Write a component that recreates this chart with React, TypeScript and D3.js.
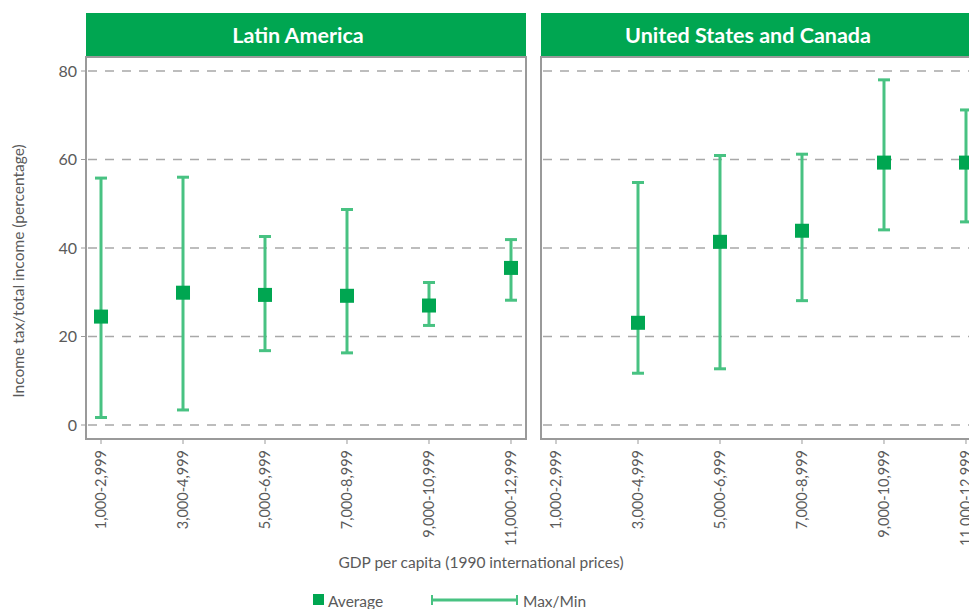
import * as d3 from "d3";

const categories = ["1,000-2,999", "3,000-4,999", "5,000-6,999", "7,000-8,999", "9,000-10,999", "11,000-12,999"];
const panels = ["Latin America", "United States and Canada"];

// Latin America
const latamAvg = [24.5, 29.9, 29.4, 29.2, 27.0, 35.5];
const latamMax = [55.8, 56.0, 42.6, 48.7, 32.2, 41.9];
const latamMin = [1.7, 3.4, 16.8, 16.3, 22.5, 28.2];

// United States and Canada (no data for first bracket)
const usAvg = [null, 23.1, 41.4, 43.9, 59.3, 59.3];
const usMax = [null, 54.8, 60.9, 61.2, 78.0, 71.2];
const usMin = [null, 11.7, 12.7, 28.1, 44.1, 45.9];

const yTicks = [0, 20, 40, 60, 80];

const W = 969;
const H = 609;
const panelW = 440;
const panelLeft = [86, 541];
const headerTop = 13;
const plotTop = 57;
const plotBottom = 439;
const font = "Lato, 'Open Sans', sans-serif";
const green = "#00a651";
const barColor = "#48c282";
const axisGray = "#9a9a9a";
const textGray = "#5a5a5a";

const y = d3.scaleLinear().domain([0, 80]).range([425, 71]);

type Row = { cat: string; avg: number | null; max: number | null; min: number | null };

const seriesRows: Row[][] = [
  categories.map((c, i) => ({ cat: c, avg: latamAvg[i], max: latamMax[i], min: latamMin[i] })),
  categories.map((c, i) => ({ cat: c, avg: usAvg[i], max: usMax[i], min: usMin[i] })),
];

function Panel({ idx }: { idx: number }) {
  const left = panelLeft[idx];
  const x = d3.scalePoint<string>().domain(categories).range([left, left + panelW]).padding(0.183);
  const rows = seriesRows[idx];
  return (
    <g>
      <rect x={left} y={headerTop} width={panelW} height={plotTop - headerTop} fill={green} />
      <text
        x={left + panelW / 2 - (idx === 0 ? 8 : 13)}
        y={(headerTop + plotTop) / 2 + 7.5}
        textAnchor="middle"
        fill="#fff"
        fontSize={21.5}
        fontWeight={700}
        fontFamily={font}
      >
        {panels[idx]}
      </text>
      {yTicks.map((t) => (
        <line
          key={t}
          x1={left + 2}
          x2={left + panelW - 2}
          y1={y(t)}
          y2={y(t)}
          stroke="#a8a8a8"
          strokeWidth={1.5}
          strokeDasharray="9,8"
        />
      ))}
      <rect
        x={left}
        y={plotTop}
        width={panelW}
        height={plotBottom - plotTop}
        fill="none"
        stroke={axisGray}
        strokeWidth={2}
      />
      {categories.map((c) => (
        <g key={c} transform={`translate(${x(c)},${plotBottom})`}>
          <line y1={1} y2={5} stroke={axisGray} strokeWidth={1} />
          <text
            transform="rotate(-90)"
            x={-11}
            dy="0.35em"
            textAnchor="end"
            fontSize={14.5}
            fill={textGray}
            fontFamily={font}
          >
            {c}
          </text>
        </g>
      ))}
      {rows
        .filter((r) => r.avg !== null)
        .map((r) => {
          const cx = x(r.cat) as number;
          return (
            <g key={r.cat}>
              <line x1={cx} x2={cx} y1={y(r.max as number)} y2={y(r.min as number)} stroke={barColor} strokeWidth={3} />
              <line x1={cx - 6} x2={cx + 6} y1={y(r.max as number)} y2={y(r.max as number)} stroke={barColor} strokeWidth={3} />
              <line x1={cx - 6} x2={cx + 6} y1={y(r.min as number)} y2={y(r.min as number)} stroke={barColor} strokeWidth={3} />
              <rect x={cx - 7} y={y(r.avg as number) - 7} width={14} height={14} fill={green} />
            </g>
          );
        })}
    </g>
  );
}

export default function App() {
  return (
    <svg width={W} height={H} style={{ position: "absolute", left: 0, top: 0, background: "#fff" }}>
      {panels.map((p, i) => (
        <Panel key={p} idx={i} />
      ))}
      {yTicks.map((t) => (
        <g key={t} transform={`translate(${panelLeft[0]},${y(t)})`}>
          <line x1={-5} x2={0} stroke={axisGray} strokeWidth={1} />
          <text x={-9} dy="0.35em" textAnchor="end" fontSize={16} fill={textGray} fontFamily={font}>
            {t}
          </text>
        </g>
      ))}
      <text
        transform={`translate(24,${(71 + 425) / 2 + 23}) rotate(-90)`}
        textAnchor="middle"
        fontSize={15.5}
        fill={textGray}
        fontFamily={font}
      >
        Income tax/total income (percentage)
      </text>
      <text x={481} y={568} textAnchor="middle" fontSize={15.5} fill={textGray} fontFamily={font}>
        GDP per capita (1990 international prices)
      </text>
      <g transform="translate(313,600)">
        <rect x={0} y={-6} width={11} height={11} fill={green} />
        <text x={15} y={7} fontSize={15.5} fill={textGray} fontFamily={font}>
          Average
        </text>
        <line x1={119} x2={204} y1={0} y2={0} stroke={barColor} strokeWidth={3} />
        <line x1={119} x2={119} y1={-5} y2={5} stroke={barColor} strokeWidth={2} />
        <line x1={204} x2={204} y1={-5} y2={5} stroke={barColor} strokeWidth={2} />
        <text x={210} y={7} fontSize={15.5} fill={textGray} fontFamily={font}>
          Max/Min
        </text>
      </g>
    </svg>
  );
}
